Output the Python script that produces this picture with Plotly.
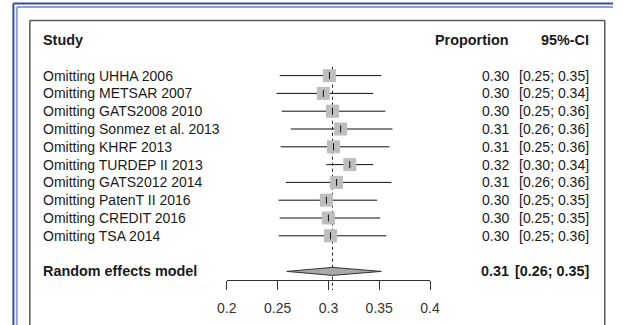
import plotly.graph_objects as go

# ---------------- data ----------------
studies = [
    "Omitting UHHA 2006",
    "Omitting METSAR 2007",
    "Omitting GATS2008 2010",
    "Omitting Sonmez et al. 2013",
    "Omitting KHRF 2013",
    "Omitting TURDEP II 2013",
    "Omitting GATS2012 2014",
    "Omitting PatenT II 2016",
    "Omitting CREDIT 2016",
    "Omitting TSA 2014",
]
est = [0.301, 0.295, 0.304, 0.312, 0.305, 0.321, 0.308, 0.298, 0.300, 0.302]
lower = [0.252, 0.249, 0.254, 0.263, 0.253, 0.298, 0.258, 0.251, 0.252, 0.251]
upper = [0.352, 0.344, 0.356, 0.363, 0.360, 0.344, 0.362, 0.348, 0.351, 0.357]
est_text = ["0.30", "0.30", "0.30", "0.31", "0.31", "0.32", "0.31", "0.30", "0.30", "0.30"]
ci_text = ["[0.25; 0.35]", "[0.25; 0.34]", "[0.25; 0.36]", "[0.26; 0.36]", "[0.25; 0.36]",
           "[0.30; 0.34]", "[0.26; 0.36]", "[0.25; 0.35]", "[0.25; 0.35]", "[0.25; 0.36]"]
pooled_label = "Random effects model"
pooled_est = 0.304
pooled_lower = 0.259
pooled_upper = 0.352
pooled_est_text = "0.31"
pooled_ci_text = "[0.26; 0.35]"
xticks = [0.2, 0.25, 0.3, 0.35, 0.4]
xtick_labels = ["0.2", "0.25", "0.3", "0.35", "0.4"]

# ---------------- layout constants ----------------
W, H = 623, 325
ROW0_PX = 40.0      # pixel y of header row
ROW_PX = 17.8       # pixels per row
n = len(studies)
rows = [i + 2 for i in range(n)]
pooled_row = n + 3
FONT = "Liberation Sans, Arial, sans-serif"
TXT = "#1a1a1a"
BOLD_SIZE = 14.4

def px(x):
    return x / W

def py(y):
    return 1 - y / H

fig = go.Figure()

# dotted reference line at pooled estimate
fig.add_trace(go.Scatter(
    x=[pooled_est, pooled_est], y=[1.5, pooled_row + 1.05], mode="lines",
    line=dict(color="#222", width=1, dash="dot"), hoverinfo="skip", showlegend=False))

# CI lines
cx, cy = [], []
for lo, hi, r in zip(lower, upper, rows):
    cx += [lo, hi, None]
    cy += [r, r, None]
fig.add_trace(go.Scatter(x=cx, y=cy, mode="lines", line=dict(color="#111", width=1),
                         hoverinfo="skip", showlegend=False))

# squares
fig.add_trace(go.Scatter(x=est, y=rows, mode="markers",
                         marker=dict(symbol="square", size=13, color="#BEBEBE", line=dict(width=0)),
                         cliponaxis=False, showlegend=False))
# point ticks
fig.add_trace(go.Scatter(x=est, y=rows, mode="markers",
                         marker=dict(symbol="line-ns", size=5, line=dict(color="#111", width=1)),
                         cliponaxis=False, showlegend=False))

# diamond
h = 4.0 / ROW_PX
fig.add_trace(go.Scatter(
    x=[pooled_lower, pooled_est, pooled_upper, pooled_est, pooled_lower],
    y=[pooled_row, pooled_row - h, pooled_row, pooled_row + h, pooled_row],
    mode="lines", fill="toself", fillcolor="#A8A8A8",
    line=dict(color="#333", width=1), hoverinfo="skip", showlegend=False))

# ---------------- text ----------------
ann = []
def add_text(x, y, text, anchor, bold=False, size=14):
    ann.append(dict(x=px(x), xref="paper", y=y, yref="y", text=("<b>%s</b>" % text) if bold else text,
                    showarrow=False, xanchor=anchor, yanchor="middle", borderpad=0,
                    font=dict(family=FONT, size=size, color=TXT)))

LEFT_X, EST_X, CI_X = 33, 517, 599
add_text(LEFT_X, 0, "Study", "left", bold=True, size=BOLD_SIZE)
add_text(EST_X, 0, "Proportion", "right", bold=True, size=BOLD_SIZE)
add_text(CI_X, 0, "95%-CI", "right", bold=True, size=BOLD_SIZE)
for s, e, c, r in zip(studies, est_text, ci_text, rows):
    add_text(LEFT_X, r, s, "left")
    add_text(EST_X, r, e, "right")
    add_text(CI_X, r, c, "right")
add_text(LEFT_X, pooled_row, pooled_label, "left", bold=True, size=BOLD_SIZE)
add_text(EST_X, pooled_row, pooled_est_text, "right", bold=True, size=BOLD_SIZE)
add_text(CI_X, pooled_row, pooled_ci_text, "right", bold=True, size=BOLD_SIZE)

# ---------------- frame ----------------
shapes = [
    # blue double border (left/top)
    dict(type="line", xref="paper", yref="paper", x0=px(3.5), x1=px(3.5), y0=0, y1=py(3.5),
         line=dict(color="#2F4FA3", width=2)),
    dict(type="line", xref="paper", yref="paper", x0=px(3.5), x1=1, y0=py(3.5), y1=py(3.5),
         line=dict(color="#2F4FA3", width=2)),
    dict(type="line", xref="paper", yref="paper", x0=px(7), x1=px(7), y0=0, y1=py(7),
         line=dict(color="#8C9FD6", width=2)),
    dict(type="line", xref="paper", yref="paper", x0=px(7), x1=1, y0=py(7), y1=py(7),
         line=dict(color="#8C9FD6", width=2)),
    # gray box
    dict(type="line", xref="paper", yref="paper", x0=px(20.5), x1=px(20.5), y0=0, y1=py(20.5),
         line=dict(color="#555", width=1.5)),
    dict(type="line", xref="paper", yref="paper", x0=px(20.5), x1=px(614.5), y0=py(20.5), y1=py(20.5),
         line=dict(color="#555", width=1.5)),
    dict(type="line", xref="paper", yref="paper", x0=px(614.5), x1=px(614.5), y0=0, y1=py(20.5),
         line=dict(color="#555", width=1.5)),
]

fig.update_layout(
    width=W, height=H, margin=dict(l=0, r=0, t=0, b=0),
    paper_bgcolor="white", plot_bgcolor="rgba(0,0,0,0)",
    showlegend=False, annotations=ann, shapes=shapes,
    xaxis=dict(domain=[px(224), px(434)], range=[0.2, 0.4], anchor="free", position=py(280),
               side="bottom", showline=True, linecolor="#333", linewidth=1,
               ticks="outside", ticklen=9, tickwidth=1, tickcolor="#333",
               tickvals=xticks, ticktext=xtick_labels, ticklabelstandoff=6,
               tickfont=dict(family=FONT, size=14, color="#333"),
               showgrid=False, zeroline=False, fixedrange=True),
    yaxis=dict(domain=[0, 1], range=[(H - ROW0_PX) / ROW_PX, -ROW0_PX / ROW_PX],
               visible=False, showgrid=False, zeroline=False, fixedrange=True),
)

fig.write_html("out.html")
